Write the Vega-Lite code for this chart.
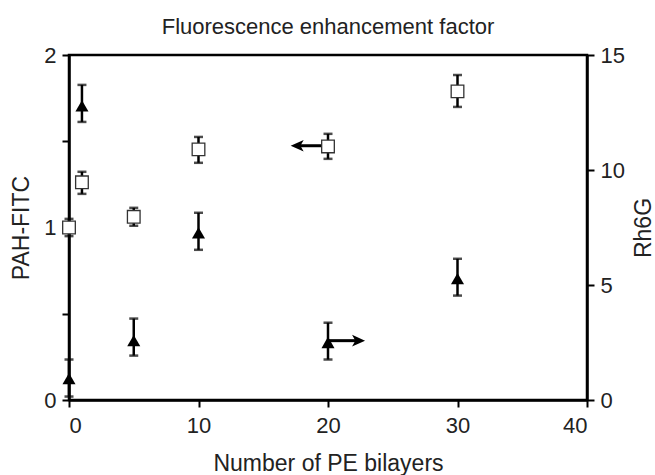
{
  "$schema": "https://vega.github.io/schema/vega-lite/v6.json",
  "autosize": "none",
  "width": 518,
  "height": 345,
  "padding": {"left": 69, "top": 55, "right": 68, "bottom": 75},
  "background": "white",
  "title": {"text": "Fluorescence enhancement factor", "fontSize": 22, "font": "Liberation Sans", "fontWeight": "normal", "color": "#222222", "anchor": "middle", "offset": 6, "dy": 23, "baseline": "bottom"},
  "config": {
    "view": {"stroke": "black", "strokeWidth": 2.5},
    "axis": {"grid": false, "domainColor": "black", "domainWidth": 2.5, "tickColor": "black", "tickWidth": 2, "tickSize": 7, "labelFont": "Liberation Sans", "labelFontSize": 22, "labelColor": "#222222", "labelPadding": 6, "titleFont": "Liberation Sans", "titleFontSize": 23, "titleFontWeight": "normal", "titleColor": "#222222", "format": "~g"}
  },
  "datasets": {
    "pah": [
      {"x": 0, "v": 1.0, "lo": 0.95, "hi": 1.05},
      {"x": 1, "v": 1.262, "lo": 1.195, "hi": 1.323},
      {"x": 5, "v": 1.062, "lo": 1.01, "hi": 1.114},
      {"x": 10, "v": 1.453, "lo": 1.375, "hi": 1.525},
      {"x": 20, "v": 1.47, "lo": 1.398, "hi": 1.543},
      {"x": 30, "v": 1.789, "lo": 1.699, "hi": 1.884}
    ],
    "rh": [
      {"x": 0, "v": 0.93, "lo": 0.15, "hi": 1.76},
      {"x": 1, "v": 12.79, "lo": 12.09, "hi": 13.7},
      {"x": 5, "v": 2.58, "lo": 1.93, "hi": 3.54},
      {"x": 10, "v": 7.27, "lo": 6.53, "hi": 8.14},
      {"x": 20, "v": 2.5, "lo": 1.76, "hi": 3.36},
      {"x": 30, "v": 5.28, "lo": 4.54, "hi": 6.14}
    ],
    "arrL": [{"x1": 17.62, "x2": 20, "y": 1.474}],
    "arrR": [{"x1": 20, "x2": 22.36, "y": 2.58}]
  },
  "layer": [
    {
      "layer": [
        {
          "data": {"name": "pah"},
          "mark": {"type": "rule", "color": "black", "strokeWidth": 2.5},
          "encoding": {
            "x": {"field": "x", "type": "quantitative", "scale": {"domain": [0, 40], "nice": false}, "axis": {"values": [0, 10, 20, 30, 40], "format": "d", "labelPadding": 8, "title": "Number of PE bilayers", "titlePadding": 16}},
            "y": {"field": "lo", "type": "quantitative", "scale": {"domain": [0, 2], "nice": false, "zero": true}, "axis": {"values": [0, 0.5, 1, 1.5, 2], "labelExpr": "datum.value % 1 === 0 ? format(datum.value, 'd') : ''", "title": "PAH-FITC", "titlePadding": 10}},
            "y2": {"field": "hi"}
          }
        },
        {
          "data": {"name": "pah"},
          "mark": {"type": "tick", "orient": "horizontal", "color": "black", "size": 9, "thickness": 2.5},
          "encoding": {"x": {"field": "x", "type": "quantitative"}, "y": {"field": "lo", "type": "quantitative"}}
        },
        {
          "data": {"name": "pah"},
          "mark": {"type": "tick", "orient": "horizontal", "color": "black", "size": 9, "thickness": 2.5},
          "encoding": {"x": {"field": "x", "type": "quantitative"}, "y": {"field": "hi", "type": "quantitative"}}
        },
        {
          "data": {"name": "arrL"},
          "mark": {"type": "rule", "color": "black", "strokeWidth": 3},
          "encoding": {"x": {"field": "x1", "type": "quantitative"}, "x2": {"field": "x2"}, "y": {"field": "y", "type": "quantitative"}}
        },
        {
          "data": {"name": "arrL"},
          "mark": {"type": "point", "shape": "M -1 0 L 1 -0.9 L 0.5 0 L 1 0.9 Z", "filled": true, "color": "black", "opacity": 1, "size": 169},
          "encoding": {"x": {"field": "x1", "type": "quantitative"}, "y": {"field": "y", "type": "quantitative"}}
        },
        {
          "data": {"name": "pah"},
          "mark": {"type": "point", "shape": "square", "filled": true, "fill": "white", "stroke": "#333333", "strokeWidth": 1.3, "opacity": 1, "size": 160},
          "encoding": {"x": {"field": "x", "type": "quantitative"}, "y": {"field": "v", "type": "quantitative"}}
        }
      ]
    },
    {
      "layer": [
        {
          "data": {"name": "rh"},
          "mark": {"type": "rule", "color": "black", "strokeWidth": 2.5},
          "encoding": {
            "x": {"field": "x", "type": "quantitative"},
            "y": {"field": "lo", "type": "quantitative", "scale": {"domain": [0, 15], "nice": false}, "axis": {"orient": "right", "values": [0, 5, 10, 15], "format": "d", "title": "Rh6G", "titlePadding": 8, "titleAngle": 270, "titleBaseline": "top"}},
            "y2": {"field": "hi"}
          }
        },
        {
          "data": {"name": "rh"},
          "mark": {"type": "tick", "orient": "horizontal", "color": "black", "size": 9, "thickness": 2.5},
          "encoding": {"x": {"field": "x", "type": "quantitative"}, "y": {"field": "lo", "type": "quantitative"}}
        },
        {
          "data": {"name": "rh"},
          "mark": {"type": "tick", "orient": "horizontal", "color": "black", "size": 9, "thickness": 2.5},
          "encoding": {"x": {"field": "x", "type": "quantitative"}, "y": {"field": "hi", "type": "quantitative"}}
        },
        {
          "data": {"name": "arrR"},
          "mark": {"type": "rule", "color": "black", "strokeWidth": 3},
          "encoding": {"x": {"field": "x1", "type": "quantitative"}, "x2": {"field": "x2"}, "y": {"field": "y", "type": "quantitative"}}
        },
        {
          "data": {"name": "arrR"},
          "mark": {"type": "point", "shape": "M 1 0 L -1 -0.9 L -0.5 0 L -1 0.9 Z", "filled": true, "color": "black", "opacity": 1, "size": 169},
          "encoding": {"x": {"field": "x2", "type": "quantitative"}, "y": {"field": "y", "type": "quantitative"}}
        },
        {
          "data": {"name": "rh"},
          "mark": {"type": "point", "shape": "triangle-up", "filled": true, "color": "black", "opacity": 1, "size": 170},
          "encoding": {"x": {"field": "x", "type": "quantitative"}, "y": {"field": "v", "type": "quantitative"}}
        }
      ]
    }
  ],
  "resolve": {"scale": {"y": "independent"}}
}
